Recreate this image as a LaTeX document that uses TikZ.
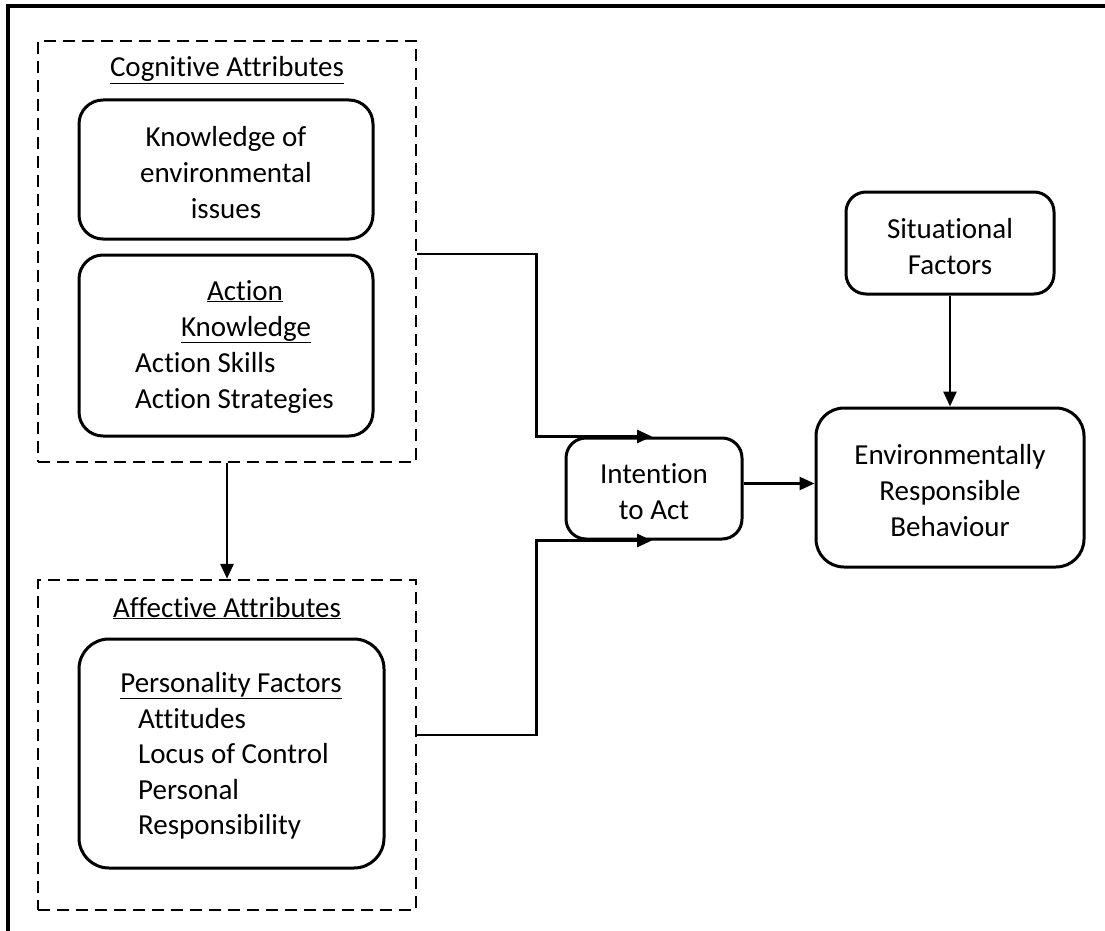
\documentclass[tikz,border=0pt]{standalone}
\usepackage{fontspec}
\setmainfont{Carlito}[Ligatures=NoCommon]
\usetikzlibrary{arrows.meta}
\newcommand{\boxtext}[1]{\raisebox{-6pt}[\height][\depth]{\begin{tabular}{@{}c@{}}#1\end{tabular}}}

\begin{document}
\begin{tikzpicture}[x=1pt, y=-1pt,
    font=\fontsize{29}{36}\selectfont,
    box/.style={draw, line width=3pt, rounded corners=24pt, align=center, inner sep=0pt},
    group/.style={draw, dash pattern=on 12pt off 7pt, line width=2.4pt, inner sep=0pt},
    arr/.style={-{Triangle[length=15pt,width=13pt]}, line width=2.8pt}]
    \useasboundingbox (0,0) rectangle (1105,931);

    % Outer frame (left and top only)
    \draw[line width=3.5pt] (8,931) -- (8,6) -- (1105,6);

    % Cognitive attributes group
    \node[group, minimum width=378pt, minimum height=421pt] (cog) at (227,251.5) {};
    \node[anchor=base] (cogtitle) at (227,77) {\underline{Cognitive Attributes}};
    \node[box, minimum width=294pt, minimum height=139pt] (know) at (226,169.5)
        {\boxtext{Knowledge of\\environmental\\issues}};
    \node[box, minimum width=294pt, minimum height=181pt] (actk) at (226,345.5) {};
    \node[anchor=base] (actk1) at (245,300) {\underline{Action}};
    \node[anchor=base] (actk2) at (246,336) {\underline{Knowledge}};
    \node[anchor=base west, inner xsep=0pt] (actk3) at (135,372) {Action Skills};
    \node[anchor=base west, inner xsep=0pt] (actk4) at (135,408) {Action Strategies};

    % Affective attributes group
    \node[group, minimum width=378pt, minimum height=330pt] (aff) at (227,745) {};
    \node[anchor=base] (afftitle) at (227,617) {\underline{Affective Attributes}};
    \node[box, rounded corners=30pt, minimum width=305pt, minimum height=229pt] (pers) at (231.5,753.5) {};
    \node[anchor=base] (pers1) at (231,692) {\underline{Personality Factors}};
    \node[anchor=base west, inner xsep=0pt] (pers2) at (138,728) {Attitudes};
    \node[anchor=base west, inner xsep=0pt] (pers3) at (138,763) {Locus of Control};
    \node[anchor=base west, inner xsep=0pt] (pers4) at (138,799) {Personal};
    \node[anchor=base west, inner xsep=0pt] (pers5) at (138,834) {Responsibility};

    % Right hand side
    \node[box, rounded corners=20pt, minimum width=176pt, minimum height=101pt] (intent) at (654,488.5)
        {\boxtext{Intention\\to Act}};
    \node[box, rounded corners=28pt, minimum width=268pt, minimum height=159pt] (erb) at (950,487.5)
        {\boxtext{Environmentally\\Responsible\\Behaviour}};
    \node[box, rounded corners=20pt, minimum width=208pt, minimum height=102pt] (sit) at (950,243)
        {\boxtext{Situational\\Factors}};

    % Connectors
    \draw[arr] (cog.south) -- (aff.north);
    \draw[arr] ([yshift=-2.5pt]cog.east) -- ++(119,0) |- ([xshift=-2pt]intent.north);
    \draw[arr] ([yshift=10pt]aff.east) -- ++(119,0) |- ([xshift=-2pt]intent.south);
    \draw[arr] ([yshift=5pt]intent.east) -- ([yshift=5pt]intent.east -| erb.west);
    \draw[arr] (sit.south) -- (erb.north);
\end{tikzpicture}
\end{document}
